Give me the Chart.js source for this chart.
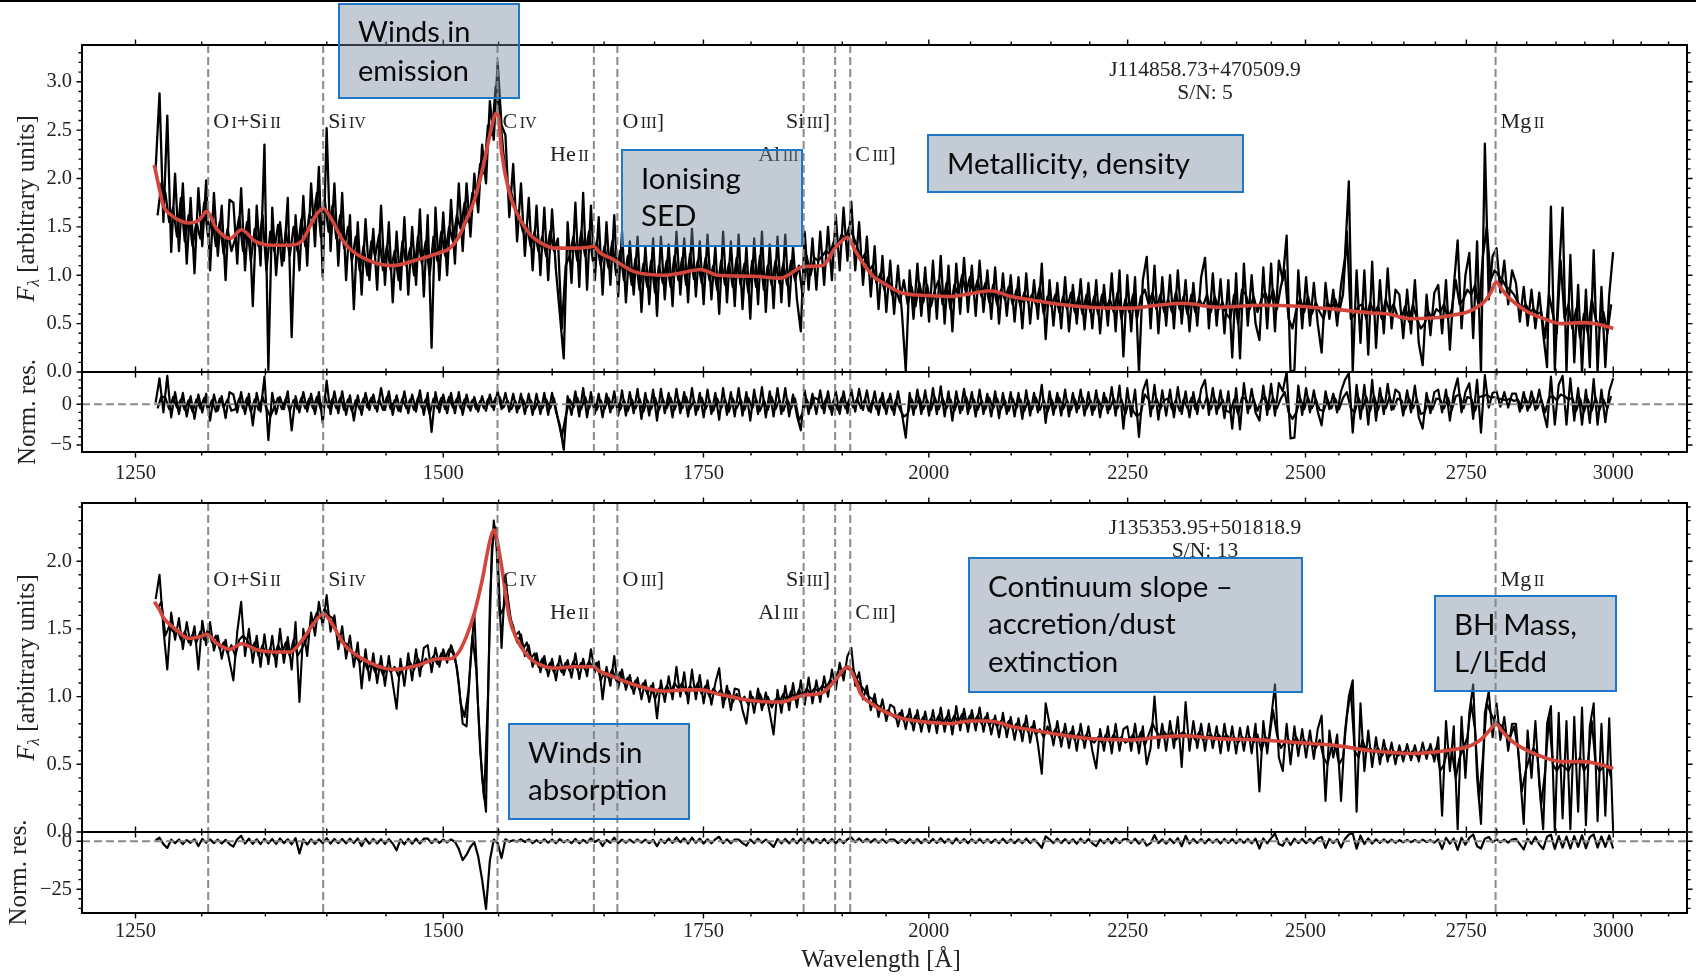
<!DOCTYPE html>
<html><head><meta charset="utf-8">
<script src="https://cdn.jsdelivr.net/npm/chart.js@4.4.1/dist/chart.umd.min.js"></script>
<style>
html,body{margin:0;padding:0;background:#fff;}
#wrap{position:relative;width:1696px;height:976px;overflow:hidden;background:#fff;}
#wrap canvas{position:absolute;left:0;top:0;}
.topbar{position:absolute;left:0;top:0;width:1696px;height:2px;background:#000;}
.box{position:absolute;box-sizing:border-box;border:2px solid #1f77c9;background:rgba(116,137,158,0.43);
 font-family:Lato,"Open Sans",sans-serif;font-size:29.5px;color:#0a0a0a;line-height:37.5px;padding-left:18px;padding-top:7.6px;white-space:nowrap;}
</style></head><body>
<div id="wrap">
<canvas id="c1" width="1696" height="976"></canvas>
<canvas id="c2" width="1696" height="976"></canvas>
<canvas id="c3" width="1696" height="976"></canvas>
<canvas id="c4" width="1696" height="976"></canvas>
<div class="topbar"></div>
<div class="box" style="left:338px;top:3px;width:182px;height:96px;font-size:29px;line-height:39.3px;padding-top:6px;">Winds in<br>emission</div>
<div class="box" style="left:621px;top:149px;width:182px;height:98px;">Ionising<br>SED</div>
<div class="box" style="left:927px;top:134px;width:317px;height:59px;">Metallicity, density</div>
<div class="box" style="left:968px;top:557px;width:335px;height:136px;">Continuum slope –<br>accretion/dust<br>extinction</div>
<div class="box" style="left:1434px;top:595px;width:183px;height:97px;">BH Mass,<br>L/LEdd</div>
<div class="box" style="left:508px;top:723px;width:182px;height:97px;">Winds in<br>absorption</div>
</div>
<script>
// ---------------- data ----------------
const specStart = 1265;     // Å, first pixel of the log-linear spectral grid
const specLogStep = 0.001;  // dex per pixel; "h" arrays hold the interleaved half-pixel samples

// J114858.73+470509.9 (S/N 5) observed flux
const flux1 = [
2.10,2.88,1.55,2.65,1.24,2.05,1.25,1.95,1.12,1.80,
1.02,1.90,1.30,1.98,1.05,1.85,1.20,1.72,0.95,1.78,
1.75,1.12,1.90,1.05,1.68,0.68,1.72,1.10,2.35,0.02,
1.70,1.00,1.55,1.15,1.80,0.36,1.62,1.05,1.82,1.10,
1.95,1.30,2.12,0.98,2.52,1.25,1.95,1.10,1.85,0.95,
1.62,0.65,1.55,0.80,1.58,0.95,1.48,0.85,1.72,0.90,
1.55,0.72,1.45,0.85,1.60,0.80,1.50,0.90,1.68,0.78,
1.62,0.25,1.70,0.95,1.65,1.00,1.78,1.12,1.95,1.25,
1.95,1.40,2.05,1.65,2.35,1.95,2.80,2.40,3.20,2.55,
2.45,1.60,2.15,1.35,1.95,1.20,1.80,1.05,1.72,1.00,
1.70,0.95,1.68,1.05,0.60,0.14,1.55,0.92,1.75,0.88,
1.85,0.85,1.72,0.95,1.60,0.80,1.55,0.90,1.62,0.78,
1.45,0.72,1.35,0.80,1.40,0.62,1.30,0.70,1.38,0.58,
1.40,0.75,1.32,0.68,1.45,0.80,1.38,0.72,1.48,0.78,
1.35,0.70,1.42,0.75,1.30,0.60,1.45,0.72,1.35,0.68,
1.42,0.65,1.30,0.55,1.38,0.70,1.45,0.62,1.32,0.66,
1.40,0.72,1.42,0.68,1.30,0.75,0.42,1.45,0.85,1.38,
0.85,1.45,0.90,1.50,0.95,1.62,1.05,1.70,1.15,1.76,
1.05,1.55,0.90,1.40,0.78,1.30,0.65,1.20,0.62,1.15,
0.60,1.10,0.62,0.01,1.05,0.55,1.12,0.58,1.08,0.52,
1.15,0.55,1.20,0.50,1.10,0.42,1.12,0.60,1.18,0.62,
1.10,0.58,1.15,0.62,1.05,0.55,1.08,0.50,1.02,0.58,
1.00,0.52,0.98,0.45,1.02,0.50,0.95,0.55,1.12,0.34,
0.95,0.48,0.92,0.45,0.98,0.42,0.90,0.50,0.96,0.44,
0.92,0.45,0.95,0.40,0.90,0.48,1.02,0.42,1.05,0.16,
1.00,0.42,0.98,0.00,0.95,1.19,0.45,1.10,0.40,0.98,
0.48,1.00,0.45,1.05,0.50,0.95,0.42,0.92,0.48,0.98,
1.18,0.45,1.02,0.48,0.96,0.40,0.95,0.15,1.02,0.14,
1.12,0.48,1.00,0.50,0.33,1.08,0.45,1.12,0.42,1.15,
0.95,1.41,0.00,0.02,1.05,0.45,0.98,0.48,0.92,0.50,
0.20,0.92,0.55,0.85,0.48,0.90,1.18,1.97,0.01,1.05,
0.30,1.05,0.18,1.14,0.25,0.95,0.40,1.07,0.45,0.85,
0.80,0.35,0.85,0.40,0.95,0.30,0.07,0.80,0.38,0.82,
0.90,0.40,0.95,0.23,0.88,1.36,0.45,1.00,1.23,0.35,
1.35,0.00,2.36,0.75,1.20,1.28,0.82,1.15,0.70,1.05,
0.92,0.52,0.88,0.48,0.85,0.45,0.82,0.40,0.05,1.71,
0.02,0.95,1.70,0.00,1.21,0.10,0.90,0.00,0.85,0.05,
1.26,0.00,0.88,0.05,0.80,1.24];
const flux1h = [
1.62,1.95,1.85,1.55,1.70,1.40,1.80,1.35,1.62,1.30,
1.55,1.38,1.75,1.40,1.62,1.30,1.55,1.22,1.48,1.25,
1.38,1.60,1.25,1.55,1.15,1.48,1.30,1.62,1.05,1.45,
1.25,1.52,1.10,1.45,1.20,1.50,1.25,1.58,1.30,1.62,
1.58,1.85,1.40,1.78,1.45,1.72,1.38,1.62,1.28,1.50,
1.15,1.40,1.05,1.30,1.00,1.35,1.20,1.42,1.05,1.30,
1.05,1.25,0.95,1.35,1.10,1.28,1.00,1.40,1.12,1.35,
1.00,1.40,1.15,1.45,1.20,1.50,1.35,1.62,1.48,1.75,
1.55,1.85,1.80,2.15,2.05,2.55,2.45,2.95,2.70,2.25,
1.95,1.85,1.70,1.62,1.45,1.52,1.30,1.45,1.25,1.40,
1.20,1.45,1.25,1.38,0.45,1.10,1.20,1.40,1.15,1.45,
1.20,1.45,1.15,1.35,1.10,1.30,1.08,1.35,1.00,1.25,
0.95,1.20,0.90,1.18,0.85,1.12,0.88,1.15,0.82,1.10,
0.92,1.15,0.88,1.20,0.95,1.18,0.90,1.22,0.96,1.15,
0.92,1.18,0.95,1.10,0.85,1.15,0.90,1.12,0.88,1.18,
0.90,1.12,0.82,1.15,0.88,1.20,0.85,1.10,0.90,1.15,
0.92,1.12,0.90,1.15,0.95,1.10,0.78,1.20,1.00,1.18,
1.15,1.20,1.25,1.22,1.35,1.30,1.42,1.38,1.50,1.40,
1.30,1.15,1.22,1.05,1.10,0.92,1.02,0.85,0.98,0.80,
0.85,0.72,0.95,0.70,0.88,0.68,0.92,0.72,0.90,0.68,
0.85,0.95,0.70,0.92,0.65,0.90,0.80,1.00,0.82,0.98,
0.80,0.95,0.78,0.92,0.72,0.90,0.70,0.85,0.75,0.88,
0.70,0.85,0.68,0.82,0.72,0.80,0.70,0.88,0.60,0.78,
0.68,0.80,0.62,0.78,0.65,0.82,0.62,0.78,0.60,0.80,
0.62,0.78,0.60,0.80,0.65,0.75,0.62,0.82,0.55,0.75,
0.62,0.80,0.55,0.78,0.85,0.70,0.82,0.65,0.80,0.62,
0.75,0.62,0.82,0.65,0.78,0.60,0.80,0.62,0.75,0.68,
0.80,0.62,0.78,0.65,0.72,0.60,0.55,0.80,0.50,0.85,
0.80,0.65,0.78,0.62,0.75,0.82,0.70,0.85,0.65,0.88,
1.05,0.55,0.45,0.65,0.75,0.62,0.78,0.60,0.72,0.62,
0.55,0.72,0.65,0.75,0.62,0.80,1.45,0.55,0.60,0.68,
0.70,0.55,0.72,0.60,0.68,0.55,0.75,0.62,0.70,0.58,
0.55,0.68,0.52,0.70,0.55,0.45,0.50,0.62,0.55,0.65,
0.62,0.70,0.55,0.65,0.95,0.70,0.75,0.85,0.80,0.90,
0.65,1.20,1.50,0.95,1.05,1.00,0.95,0.88,0.85,0.80,
0.72,0.65,0.70,0.62,0.65,0.60,0.62,0.35,0.80,0.60,
0.40,1.15,0.55,0.70,0.45,0.65,0.35,0.60,0.40,0.75,
0.55,0.45,0.62,0.40,0.70];

// normalised residuals, J114858.73+470509.9
const resid1 = [
0.2,3.2,-1.0,3.5,-1.6,1.5,-1.2,1.4,-1.5,1.0,
-1.8,1.2,-1.0,1.3,-2.0,1.2,-0.8,1.0,-1.7,1.5,
1.2,-1.0,1.5,-1.2,1.3,-2.6,1.4,-0.9,3.4,-4.4,
1.4,-1.2,0.9,-0.6,1.6,-3.2,1.0,-1.0,1.5,-0.9,
1.3,-1.2,1.5,-2.3,2.9,-1.2,1.6,-1.1,1.6,-1.3,
1.1,-2.0,1.1,-1.3,1.4,-0.7,1.2,-0.9,2.0,-0.7,
1.6,-1.3,1.1,-0.9,1.6,-1.1,1.2,-0.9,1.7,-1.3,
1.4,-3.4,1.5,-1.0,1.2,-1.1,1.4,-1.1,1.5,-1.3,
1.2,-0.8,0.9,-0.9,1.0,-0.8,1.2,-0.7,1.6,-0.6,
1.4,-0.9,1.3,-1.0,1.3,-1.2,1.3,-1.3,1.3,-1.2,
1.4,-1.3,1.4,-0.9,-2.6,-5.6,1.0,-1.3,1.6,-1.5,
2.0,-1.6,1.5,-1.2,1.3,-1.6,1.3,-1.0,1.6,-1.4,
1.7,-1.4,1.5,-1.1,1.9,-1.8,1.4,-1.4,1.8,-2.0,
1.9,-1.1,1.4,-1.6,1.9,-1.1,1.5,-1.5,2.0,-1.3,
1.4,-1.6,1.8,-1.2,1.4,-1.9,2.0,-1.3,1.5,-1.5,
2.0,-1.4,1.5,-2.0,1.8,-1.2,2.1,-1.6,1.6,-1.5,
2.0,-1.2,2.0,-1.5,1.2,-1.4,-3.2,1.7,-1.2,1.3,
-1.2,1.7,-1.1,1.6,-1.3,1.6,-1.2,1.6,-1.1,1.8,
-0.9,1.9,-0.7,1.7,-1.0,1.6,-1.3,1.4,-1.2,1.3,
-1.3,1.6,-1.1,-4.1,1.4,-1.3,1.8,-1.2,1.7,-1.4,
2.0,-1.2,2.2,-1.5,1.6,-2.0,1.6,-1.1,1.9,-1.2,
1.5,-1.5,1.8,-1.2,1.3,-1.5,1.6,-1.7,1.4,-1.2,
1.5,-1.5,1.4,-1.8,1.7,-1.4,1.4,-1.0,2.4,-2.3,
1.6,-1.3,1.4,-1.4,1.8,-1.5,1.4,-1.0,1.8,-1.4,
1.5,-1.3,1.7,-1.6,1.4,-1.1,2.1,-1.4,2.3,-3.0,
2.0,-1.5,1.8,-4.0,1.6,3.0,-1.5,2.4,-1.9,1.7,
-1.4,1.8,-1.6,2.1,-1.2,1.6,-1.6,1.5,-1.2,1.9,
3.0,-1.3,2.0,-1.2,1.7,-1.7,1.6,-3.0,2.0,-3.1,
2.6,-1.1,1.9,-1.0,-2.0,2.3,-1.3,2.5,-1.4,2.6,
1.6,4.0,-4.2,-4.1,2.3,-1.3,2.0,-1.0,1.7,-0.9,
-2.6,1.6,-0.6,1.3,-1.0,1.6,3.0,3.8,-3.5,2.4,
-1.8,2.4,-2.5,3.0,-2.0,2.0,-1.2,2.5,-0.7,1.8,
1.4,-1.4,1.7,-1.0,2.3,-1.6,-3.0,1.4,-1.1,1.5,
1.8,-1.0,1.8,-2.0,1.4,3.2,-1.0,1.5,2.6,-1.8,
3.0,-3.5,3.6,-0.4,1.4,1.6,-0.3,1.5,-0.4,1.3,
1.3,-0.9,1.5,-0.8,1.6,-0.7,1.8,-0.8,-2.8,3.4,
-2.5,2.4,3.5,-2.5,3.2,-2.0,2.0,-2.5,1.8,-2.3,
3.1,-2.5,1.8,-2.2,1.6,3.2];
const resid1h = [
-0.5,1.0,0.8,-0.6,0.9,-0.4,0.6,-0.7,0.5,-0.9,
0.6,-0.5,0.8,-0.7,0.5,-0.9,0.7,-0.4,0.6,-0.8,
-0.6,0.7,-0.5,0.8,-0.9,0.6,-0.7,0.9,-0.5,-1.5,
-0.4,0.8,-0.6,0.7,-0.8,0.5,-0.6,0.8,-0.5,0.7,
-0.5,0.9,-0.6,1.0,-0.4,0.7,-0.5,0.8,-0.7,0.6,
-0.8,0.5,-0.6,0.7,-0.4,0.8,-0.5,0.6,-0.7,0.9,
-0.6,0.5,-0.8,0.7,-0.5,0.6,-0.7,0.8,-0.4,0.6,
-1.2,0.7,-0.5,0.8,-0.6,0.9,-0.4,0.7,-0.5,0.6,
-0.4,0.5,-0.6,0.4,-0.5,0.6,-0.3,0.8,0.9,-0.4,
0.5,-0.6,0.4,-0.5,0.6,-0.4,0.5,-0.6,0.4,-0.5,
0.6,-0.5,0.7,-1.8,-4.0,-1.5,0.6,-0.4,0.8,-0.6,
0.9,-0.5,0.6,-0.7,0.5,-0.6,0.8,-0.5,0.6,-0.7,
0.5,-0.8,0.6,-0.5,0.7,-0.9,0.5,-0.6,0.8,-0.7,
0.6,-0.5,0.8,-0.7,0.6,-0.5,0.9,-0.6,0.5,-0.7,
0.8,-0.6,0.5,-0.8,0.7,-0.5,0.6,-0.9,0.7,-0.5,
0.6,-0.7,0.8,-0.5,0.6,-0.8,0.5,-0.7,0.9,-0.6,
0.5,-0.8,0.6,-0.5,0.7,-2.0,-1.0,0.6,-0.5,0.8,
0.6,-0.5,0.7,-0.6,0.5,-0.7,0.8,-0.5,0.6,-0.4,
0.7,-0.5,0.6,-0.8,0.5,-0.6,0.7,-0.5,0.6,-0.7,
0.5,-0.6,-1.5,-1.2,0.6,-0.5,0.8,-0.6,0.5,-0.7,
0.8,-0.6,0.7,-0.5,0.6,-0.8,0.5,-0.7,0.9,-0.5,
0.6,-0.7,0.5,-0.6,0.8,-0.5,0.7,-0.6,0.5,-0.8,
0.7,-0.5,0.6,-0.8,0.5,-0.6,0.8,-0.7,0.5,-0.9,
0.6,-0.5,0.8,-0.6,0.5,-0.7,0.6,-0.5,0.8,-0.6,
0.5,-0.7,0.6,-0.5,0.8,-0.6,0.7,-0.5,0.6,-1.2,
0.5,-0.8,-1.5,-1.0,1.2,0.6,-0.5,0.7,-0.6,0.5,
0.7,-0.6,0.5,-0.8,0.6,-0.5,0.8,-0.6,0.7,-0.5,
0.9,-0.6,0.7,-0.5,0.6,-0.8,-1.0,0.6,-1.2,0.8,
0.7,-0.5,0.6,-0.8,0.5,0.9,-0.6,0.8,-0.5,0.7,
1.5,-1.0,-1.8,-1.0,0.7,-0.6,0.8,-0.5,0.6,-0.7,
-0.8,0.6,-0.5,0.7,-0.6,0.8,1.5,-0.5,-1.0,0.8,
-0.6,0.9,-0.8,1.0,-0.7,0.8,-0.5,0.9,-0.6,0.7,
0.5,-0.6,0.7,-0.5,0.6,-1.2,-1.0,0.5,-0.6,0.7,
0.6,-0.5,0.8,-0.7,1.0,1.2,-0.5,0.9,0.7,-0.8,
0.9,1.0,1.2,0.8,0.9,0.7,0.6,0.5,0.7,0.4,
0.6,-0.5,0.7,-0.4,0.8,-0.5,0.6,-1.0,0.8,1.0,
0.5,1.2,1.0,0.6,0.8,-0.8,0.7,-0.9,0.6,-0.8,
0.8,-0.7,0.6,-0.5,1.0];

// J135353.95+501818.9 (S/N 13) observed flux
const flux2 = [
1.72,1.90,1.50,1.20,1.62,1.42,1.58,1.35,1.55,1.38,
1.52,1.20,1.56,1.38,1.55,1.34,1.45,1.28,1.42,1.26,
1.12,1.48,1.70,1.30,1.50,1.25,1.45,1.22,1.46,1.24,
1.45,1.22,1.50,1.25,1.44,1.20,1.55,0.96,1.50,1.30,
1.62,1.45,1.70,1.52,1.75,1.48,1.60,1.35,1.52,1.28,
1.45,1.22,1.40,1.06,1.35,1.12,1.32,1.10,1.30,1.08,
1.30,1.10,0.91,1.28,1.08,1.32,1.12,1.35,1.15,1.36,
1.38,1.18,1.36,1.22,1.35,1.25,1.38,1.30,1.10,0.80,
0.78,1.25,1.62,0.90,0.40,0.15,1.70,2.30,2.05,1.36,
1.90,1.60,1.52,1.40,1.46,1.30,1.38,1.22,1.32,1.18,
1.30,1.15,1.28,1.12,1.30,1.16,1.27,1.14,1.32,1.13,
1.28,1.15,1.35,1.18,1.26,0.98,1.22,1.08,1.30,1.06,
1.20,1.05,1.16,1.02,1.14,0.98,1.12,0.96,1.10,0.84,
1.12,0.96,1.15,0.98,1.22,1.00,1.18,0.95,1.20,0.98,
1.16,0.95,1.12,0.94,1.10,1.21,0.92,1.08,0.90,1.06,
1.05,0.90,0.80,1.04,0.88,1.06,0.90,1.03,0.88,0.72,
1.05,0.88,1.08,0.90,1.10,0.92,1.12,0.94,1.14,0.95,
1.12,0.96,1.15,1.00,1.20,1.05,1.25,1.12,1.30,1.36,
1.08,1.18,0.98,1.08,0.90,1.02,0.85,0.98,0.82,0.94,
0.92,0.78,0.90,0.76,0.91,0.75,0.90,0.74,0.89,0.74,
0.90,0.73,0.92,0.74,0.90,0.72,0.93,0.75,0.91,0.74,
0.90,0.75,0.92,0.74,0.88,0.72,0.86,0.70,0.88,0.70,
0.85,0.68,0.84,0.67,0.86,0.66,0.82,0.65,0.43,0.95,
0.80,0.64,0.82,0.63,0.80,0.62,0.78,0.60,0.80,0.62,
0.78,0.60,0.47,0.76,0.60,0.78,0.58,0.80,0.60,0.76,
0.78,0.60,0.80,0.58,0.78,0.50,0.62,1.00,0.62,0.80,
0.60,0.82,0.62,0.85,0.48,0.96,0.60,0.82,0.62,0.80,
0.60,0.80,0.62,0.78,0.58,0.80,0.60,0.78,0.58,0.77,
0.60,0.78,0.58,0.80,0.30,0.82,0.58,0.84,1.09,0.55,
0.45,0.80,0.50,0.78,0.56,0.76,0.55,0.75,0.54,0.76,
0.86,0.23,0.75,0.55,0.72,0.23,0.74,1.00,1.12,0.15,
0.95,0.45,0.75,0.48,0.70,0.50,0.68,0.52,0.66,0.50,
0.64,0.52,0.65,0.53,0.64,0.52,0.66,0.54,0.65,0.52,
0.70,0.12,0.82,0.45,0.78,0.02,0.85,0.40,0.88,1.09,
0.40,0.06,0.88,1.04,0.70,0.95,0.68,0.85,0.60,0.80,
0.80,0.45,0.06,0.75,0.40,0.82,0.35,0.02,0.80,0.93,
0.00,0.88,0.10,0.82,0.02,0.85,0.15,0.92,0.05,0.78,
0.95,0.08,0.80,0.12,0.84,0.01];
const flux2h = [
1.65,1.70,1.45,1.52,1.48,1.50,1.42,1.48,1.40,1.46,
1.40,1.48,1.42,1.50,1.40,1.45,1.35,1.40,1.32,1.38,
1.30,1.42,1.45,1.42,1.35,1.40,1.30,1.38,1.30,1.36,
1.30,1.38,1.32,1.40,1.30,1.42,1.30,1.35,1.40,1.50,
1.55,1.62,1.58,1.65,1.60,1.58,1.48,1.45,1.40,1.38,
1.32,1.30,1.25,1.28,1.20,1.25,1.18,1.24,1.16,1.22,
1.18,1.22,1.15,1.20,1.22,1.25,1.20,1.28,1.22,1.28,
1.25,1.30,1.24,1.32,1.28,1.35,1.32,1.22,0.95,0.85,
1.05,1.45,1.20,0.60,0.25,1.00,2.10,2.25,1.60,1.65,
1.75,1.55,1.45,1.48,1.35,1.40,1.28,1.32,1.22,1.28,
1.20,1.25,1.18,1.24,1.18,1.25,1.19,1.26,1.20,1.25,
1.20,1.26,1.22,1.25,1.12,1.18,1.14,1.20,1.12,1.18,
1.10,1.14,1.06,1.12,1.05,1.10,1.02,1.08,0.98,1.06,
1.02,1.08,1.03,1.10,1.06,1.10,1.02,1.08,1.04,1.10,
1.02,1.08,1.00,1.06,1.02,1.05,0.98,1.04,0.96,1.02,
0.96,1.00,0.94,1.00,0.95,1.02,0.94,1.00,0.92,0.98,
0.96,1.02,0.96,1.04,0.98,1.05,1.00,1.06,1.02,1.06,
1.04,1.08,1.06,1.12,1.10,1.18,1.16,1.22,1.20,1.20,
1.12,1.08,1.04,1.00,0.98,0.94,0.92,0.88,0.90,0.86,
0.84,0.88,0.82,0.86,0.80,0.86,0.80,0.85,0.80,0.84,
0.80,0.86,0.80,0.85,0.80,0.86,0.81,0.87,0.80,0.86,
0.81,0.86,0.80,0.85,0.79,0.83,0.78,0.82,0.77,0.82,
0.76,0.80,0.74,0.80,0.74,0.78,0.72,0.76,0.70,0.78,
0.71,0.76,0.70,0.74,0.70,0.74,0.68,0.73,0.68,0.72,
0.68,0.66,0.70,0.66,0.72,0.66,0.72,0.68,0.70,0.66,
0.68,0.72,0.66,0.74,0.64,0.72,0.80,0.74,0.70,0.74,
0.70,0.74,0.68,0.72,0.74,0.70,0.72,0.68,0.74,0.68,
0.70,0.72,0.68,0.72,0.68,0.72,0.68,0.70,0.66,0.70,
0.68,0.70,0.66,0.72,0.60,0.70,0.68,0.90,0.72,0.62,
0.66,0.68,0.64,0.70,0.64,0.68,0.64,0.66,0.62,0.68,
0.55,0.50,0.62,0.64,0.50,0.55,0.85,1.05,0.60,0.55,
0.68,0.60,0.62,0.58,0.62,0.56,0.62,0.56,0.60,0.56,
0.58,0.60,0.57,0.60,0.56,0.60,0.58,0.61,0.57,0.62,
0.45,0.50,0.62,0.60,0.40,0.55,0.62,0.70,0.95,0.75,
0.25,0.55,0.95,0.88,0.82,0.80,0.78,0.72,0.70,0.78,
0.62,0.30,0.45,0.55,0.62,0.58,0.20,0.45,0.85,0.50,
0.45,0.50,0.48,0.45,0.52,0.50,0.55,0.45,0.50,0.82,
0.50,0.45,0.48,0.50,0.40];

// normalised residuals, J135353.95+501818.9
const resid2 = [
0.5,1.8,-1.5,-3.5,0.8,-1.0,0.9,-1.5,0.6,-0.8,
1.0,-2.5,1.2,-0.8,1.0,-1.0,0.8,-1.2,0.7,-1.5,
-2.8,1.0,2.8,-1.2,1.3,-1.4,1.0,-1.5,1.2,-1.1,
1.1,-1.4,1.4,-1.0,1.0,-1.6,1.6,-6.4,0.9,-1.7,
1.0,-1.4,1.0,-1.0,1.6,-1.2,1.2,-1.0,1.2,-1.1,
1.3,-1.0,1.4,-2.5,1.3,-1.3,1.2,-1.2,1.1,-1.4,
1.1,-1.2,-4.7,0.9,-1.6,1.2,-1.3,1.3,-1.2,1.3,
1.4,-1.0,1.1,-0.9,0.8,-0.6,0.9,-0.3,-4.0,-9.8,
-7.0,-3.0,-0.5,-8.0,-20.0,-35.3,-10.0,0.8,-1.0,-8.8,
1.0,-0.3,0.5,-0.2,1.0,-0.4,1.0,-1.0,0.6,-0.9,
1.0,-0.8,0.9,-1.0,1.1,-0.6,0.6,-1.0,1.2,-1.1,
0.7,-0.8,1.5,-0.4,0.8,-2.5,0.7,-0.8,1.8,-1.0,
0.8,-0.7,0.8,-0.7,0.9,-0.8,0.8,-1.0,0.7,-2.6,
0.9,-1.0,1.3,-0.9,2.0,-0.6,1.5,-1.2,1.8,-0.8,
1.3,-1.2,1.0,-1.1,1.0,2.3,-1.0,1.0,-1.1,0.9,
0.9,-1.0,-2.3,0.9,-1.1,1.3,-0.8,0.9,-1.0,-3.0,
1.1,-1.1,1.2,-1.1,1.2,-1.1,1.3,-1.0,1.4,-1.0,
1.1,-1.0,1.2,-1.0,1.1,-1.1,1.0,-1.0,1.0,2.0,
-0.5,1.4,-0.5,1.2,-0.6,1.1,-0.8,1.0,-0.8,0.9,
0.9,-1.0,0.8,-1.0,1.1,-1.0,1.1,-1.0,1.1,-0.9,
1.2,-0.9,1.5,-0.8,1.1,-1.2,1.4,-0.9,1.1,-1.0,
1.0,-0.9,1.2,-0.9,1.0,-0.9,0.9,-1.0,1.3,-1.0,
1.0,-1.0,1.0,-1.0,1.3,-1.0,1.0,-1.0,-3.5,2.5,
1.0,-1.0,1.3,-1.0,1.1,-1.1,1.0,-1.3,1.3,-0.9,
1.1,-1.1,-2.6,0.9,-1.0,1.2,-1.2,1.4,-1.0,1.0,
1.2,-1.0,1.3,-1.3,1.0,-2.3,-1.0,3.2,-1.0,1.0,
-1.3,1.2,-1.0,1.6,-2.6,2.8,-1.2,1.2,-0.9,1.1,
-1.1,1.1,-0.8,1.0,-1.2,1.2,-0.9,1.1,-1.1,1.0,
-0.9,1.1,-1.1,1.3,-3.8,1.5,-1.1,1.6,4.0,-1.5,
-2.4,1.4,-1.9,1.3,-1.0,1.2,-1.0,1.2,-1.1,1.4,
2.2,-3.5,1.2,-0.9,1.0,-3.3,1.2,3.5,4.2,-3.9,
2.9,-1.5,1.5,-1.2,1.0,-0.9,0.9,-0.7,0.8,-0.8,
0.6,-0.6,0.7,-0.5,0.6,-0.6,0.8,-0.5,0.6,-0.7,
0.9,-4.0,1.8,-1.3,1.4,-4.5,1.8,-1.8,1.8,3.5,
-2.6,-3.8,1.3,2.2,-0.5,1.0,-0.6,0.8,-0.7,0.9,
1.2,-1.5,-4.3,1.3,-1.4,2.2,-1.7,-4.1,2.3,3.4,
-4.0,2.7,-3.3,2.4,-3.8,2.7,-2.9,3.1,-3.6,2.1,
3.5,-3.3,2.5,-2.9,3.0,-3.8];

// best-fit model (red) sampled at these wavelengths
const modelWave = [1264,1268,1271,1276,1281,1290,1298,1304,1311,1322,
1331,1342,1355,1370,1380,1390,1397,1402,1415,1434,
1456,1477,1496,1506,1514,1521,1528,1535,1542,1546,
1549,1553,1560,1567,1574,1581,1590,1602,1620,1635,
1640,1645,1658,1679,1710,1730,1747,1765,1802,1832,
1857,1878,1892,1906,1915,1921,1935,1945,1968,2000,
2026,2050,2074,2100,2129,2160,2199,2255,2290,2326,
2372,2437,2490,2543,2600,2625,2661,2698,2730,2752,
2770,2780,2790,2799,2808,2818,2835,2852,2880,2909,
2949,2975,3000];
const model1 = [2.14,1.88,1.71,1.63,1.58,1.54,1.57,1.66,1.49,1.38,
1.47,1.35,1.31,1.31,1.36,1.60,1.69,1.62,1.33,1.16,
1.10,1.16,1.23,1.28,1.40,1.58,1.78,2.08,2.45,2.64,
2.68,2.25,1.85,1.64,1.50,1.40,1.33,1.28,1.28,1.29,
1.30,1.24,1.17,1.04,1.00,1.03,1.06,1.00,0.99,0.97,
1.09,1.10,1.28,1.39,1.25,1.16,0.99,0.93,0.82,0.79,
0.78,0.81,0.84,0.78,0.74,0.70,0.67,0.66,0.69,0.71,
0.67,0.69,0.68,0.65,0.61,0.60,0.55,0.56,0.59,0.62,
0.68,0.73,0.82,0.93,0.86,0.78,0.69,0.62,0.55,0.50,
0.51,0.49,0.45];
const model2 = [1.70,1.64,1.58,1.53,1.49,1.43,1.44,1.46,1.40,1.35,
1.39,1.35,1.33,1.33,1.42,1.55,1.61,1.57,1.38,1.26,
1.20,1.23,1.28,1.28,1.33,1.45,1.62,1.86,2.15,2.23,
2.14,1.95,1.58,1.42,1.33,1.27,1.23,1.21,1.22,1.22,
1.22,1.19,1.15,1.09,1.04,1.05,1.05,1.02,0.97,0.96,
1.01,1.03,1.12,1.22,1.12,1.02,0.94,0.90,0.84,0.81,
0.80,0.82,0.82,0.78,0.75,0.72,0.69,0.68,0.70,0.71,
0.69,0.68,0.66,0.64,0.60,0.59,0.58,0.59,0.61,0.63,
0.67,0.71,0.76,0.80,0.75,0.70,0.64,0.60,0.55,0.52,
0.52,0.50,0.47];

// emission lines (Å) and their labels
const lineWaves = [1305, 1397, 1549, 1640, 1663, 1857, 1892, 1909, 2798];
const lineNames = [
  [['O',0],['I',1],['+Si',0],['II',1]],
  [['Si',0],['IV',1]],
  [['C',0],['IV',1]],
  [['He',0],['II',1]],
  [['O',0],['III',1],[']',0]],
  [['Al',0],['III',1]],
  [['Si',0],['III',1],[']',0]],
  [['C',0],['III',1],[']',0]],
  [['Mg',0],['II',1]]
];
const lineAlign = ['left','left','left','right','left','right','right','left','left'];
const lineRow = [0,0,0,1,0,1,0,1,0];

// axis ticks
const xTickLabels = [1250, 1500, 1750, 2000, 2250, 2500, 2750, 3000];
const yTicksTop = [0, 0.5, 1.0, 1.5, 2.0, 2.5, 3.0];
const yTicksResTop = [-5, 0];
const yTicksBot = [0, 0.5, 1.0, 1.5, 2.0];
const yTicksResBot = [-25, 0];

// ---------------- drawing ----------------
const SERIF = '"Liberation Serif", "DejaVu Serif", serif';
const tickFont = { family: SERIF, size: 20.5 };
const waveAt = k => specStart * Math.pow(10, k * specLogStep);
const specPts = (ys, off) => ys.map((y, i) => ({ x: waveAt(i + off), y }));
const modelPts = ys => ys.map((y, i) => ({ x: modelWave[i], y }));

function drawParts(ctx, parts, x, y, align) {
  const big = '22px ' + SERIF, small = '16px ' + SERIF;
  const ws = parts.map(([t, s]) => { ctx.font = s ? small : big; return ctx.measureText(t).width + (s ? 2.5 : 0); });
  const tot = ws.reduce((a, b) => a + b, 0);
  let cx = align === 'right' ? x - tot : x;
  parts.forEach(([t, s], i) => { ctx.font = s ? small : big; ctx.fillText(t, cx + (s ? 2.5 : 0), y); cx += ws[i]; });
}

function drawTitle(ctx, kind, bx, cy) {
  ctx.save();
  ctx.translate(bx, cy); ctx.rotate(-Math.PI / 2);
  ctx.fillStyle = '#222'; ctx.textAlign = 'left'; ctx.textBaseline = 'alphabetic';
  const parts = kind === 'F'
    ? [['F', 'italic 25px ' + SERIF, 0], ['λ', 'italic 17px ' + SERIF, 5], [' [arbitrary units]', '25px ' + SERIF, 0]]
    : [['Norm. res.', '25px ' + SERIF, 0]];
  let w = 0;
  parts.forEach(p => { ctx.font = p[1]; p.push(ctx.measureText(p[0]).width); w += p[3]; });
  let x = -w / 2;
  parts.forEach(p => { ctx.font = p[1]; ctx.fillText(p[0], x, p[2]); x += p[3]; });
  ctx.restore();
}

const decoPlugin = {
  id: 'deco',
  afterDatasetsDraw(chart, args, o) {
    const ctx = chart.ctx, a = chart.chartArea, xs = chart.scales.x, ys = chart.scales.y;
    ctx.save();
    ctx.strokeStyle = '#8a8a8a'; ctx.lineWidth = 2; ctx.setLineDash([8, 4]);
    ctx.beginPath();
    lineWaves.forEach(w => { const px = xs.getPixelForValue(w); ctx.moveTo(px, a.top); ctx.lineTo(px, a.bottom); });
    if (o.zero) { const py = ys.getPixelForValue(0); ctx.moveTo(a.left, py); ctx.lineTo(a.right, py); }
    ctx.stroke();
    ctx.setLineDash([]);
    ctx.strokeStyle = '#000'; ctx.lineWidth = 2;
    ctx.strokeRect(a.left, a.top, a.right - a.left, a.bottom - a.top);
    ctx.lineWidth = 1.4; ctx.beginPath();
    const seg = (x1, y1, x2, y2) => { ctx.moveTo(x1, y1); ctx.lineTo(x2, y2); };
    for (let w = 1250; w <= 3100; w += 50) {
      const px = xs.getPixelForValue(w);
      const L = xTickLabels.includes(w) ? 5.5 : 3.5;
      seg(px, a.top, px, a.top - L); seg(px, a.bottom, px, a.bottom + L);
    }
    const k0 = Math.ceil(ys.min / o.minor - 1e-9), k1 = Math.floor(ys.max / o.minor + 1e-9);
    for (let k = k0; k <= k1; k++) {
      const v = k * o.minor, py = ys.getPixelForValue(v);
      const L = o.major.some(m => Math.abs(m - v) < 1e-6) ? 5.5 : 3.5;
      seg(a.left, py, a.left - L, py); seg(a.right, py, a.right + L, py);
    }
    ctx.stroke();
    ctx.fillStyle = '#222';
    if (o.labels) {
      ctx.textBaseline = 'alphabetic'; ctx.textAlign = 'left';
      lineWaves.forEach((w, i) => {
        const px = xs.getPixelForValue(w) + (lineAlign[i] === 'right' ? -5 : 5);
        const py = a.top + (lineRow[i] === 0 ? 76 : 109) + 7.2;
        drawParts(ctx, lineNames[i], px, py, lineAlign[i]);
      });
      ctx.textAlign = 'center'; ctx.textBaseline = 'middle'; ctx.font = '21.5px ' + SERIF;
      ctx.fillText(o.obj[0], 1205, a.top + 25);
      ctx.fillText(o.obj[1], 1205, a.top + 48.5);
    }
    drawTitle(ctx, o.title, o.titleX, (a.top + a.bottom) / 2);
    ctx.restore();
  }
};

function panel(id, c) {
  return new Chart(document.getElementById(id), {
    type: 'line',
    data: { datasets: c.datasets },
    options: {
      responsive: false, animation: false, devicePixelRatio: 1, events: [],
      layout: { padding: { left: 0, right: 9, top: c.top, bottom: 976 - c.bottom - (c.showX ? 40 : 0) } },
      plugins: { legend: { display: false }, tooltip: { enabled: false }, deco: c.deco },
      scales: {
        x: {
          type: 'logarithmic', min: 1211, max: 3134, display: c.showX,
          grid: { display: false, drawTicks: false }, border: { display: false },
          ticks: { autoSkip: false, maxRotation: 0, minRotation: 0, padding: c.xPad || 8, font: tickFont, color: '#222', callback: v => String(v) },
          afterBuildTicks: s => { s.ticks = xTickLabels.map(v => ({ value: v })); },
          afterFit: s => { s.height = c.showX ? 40 : 0; }
        },
        y: {
          min: c.ymin, max: c.ymax,
          grid: { display: false, drawTicks: false }, border: { display: false },
          ticks: { autoSkip: false, padding: 10, font: tickFont, color: '#222', callback: c.yfmt },
          afterBuildTicks: s => { s.ticks = c.yticks.map(v => ({ value: v })); },
          afterFit: s => { s.width = 82; }
        }
      }
    },
    plugins: [decoPlugin]
  });
}

const fmtMain = v => Number(v).toFixed(1);
const fmtRes = v => v === 0 ? '0' : (v < 0 ? '\u2212' + Math.abs(v) : String(v));
const blackDs = (ys, off, lw) => ({ data: specPts(ys, off), borderColor: '#000', borderWidth: lw, pointRadius: 0,
  borderJoinStyle: 'round', tension: 0, order: 2 });
const redDs = ys => ({ data: modelPts(ys), borderColor: '#d4453b', borderWidth: 3.6, pointRadius: 0, cubicInterpolationMode: 'monotone', order: 1 });

panel('c1', { top: 45, bottom: 372, showX: false, ymin: 0, ymax: 3.38, yticks: yTicksTop, yfmt: fmtMain,
  datasets: [redDs(model1), blackDs(flux1, 0, 2.3), blackDs(flux1h, 0.5, 2.3)],
  deco: { minor: 0.1, major: yTicksTop, zero: false, labels: true, obj: ['J114858.73+470509.9', 'S/N: 5'], title: 'F', titleX: 33.5 } });
panel('c2', { top: 372, bottom: 452, showX: true, xPad: 9.7, ymin: -5.87, ymax: 3.97, yticks: yTicksResTop, yfmt: fmtRes,
  datasets: [blackDs(resid1, 0, 2.2), blackDs(resid1h, 0.5, 2.2)],
  deco: { minor: 1, major: yTicksResTop, zero: true, labels: false, title: 'N', titleX: 35 } });
panel('c3', { top: 503, bottom: 832, showX: false, ymin: 0, ymax: 2.43, yticks: yTicksBot, yfmt: fmtMain,
  datasets: [redDs(model2), blackDs(flux2, 0, 2.1), blackDs(flux2h, 0.5, 2.1)],
  deco: { minor: 0.1, major: yTicksBot, zero: false, labels: true, obj: ['J135353.95+501818.9', 'S/N: 13'], title: 'F', titleX: 33.5 } });
panel('c4', { top: 832, bottom: 913, showX: true, xPad: 6.4, ymin: -37.4, ymax: 4.8, yticks: yTicksResBot, yfmt: fmtRes,
  datasets: [blackDs(resid2, 0, 2.2)],
  deco: { minor: 5, major: yTicksResBot, zero: true, labels: false, title: 'N', titleX: 26 } });

(function () {
  const ctx = document.getElementById('c4').getContext('2d');
  ctx.save(); ctx.fillStyle = '#222'; ctx.font = '25px ' + SERIF; ctx.textAlign = 'center'; ctx.textBaseline = 'middle';
  ctx.fillText('Wavelength [Å]', 881, 960);
  ctx.restore();
})();
</script>
</body></html>
